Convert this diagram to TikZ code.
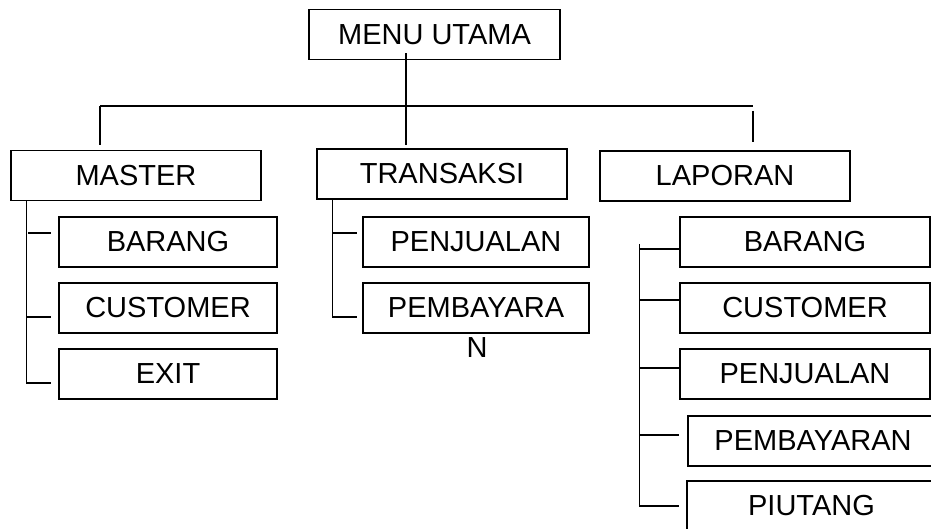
\documentclass[tikz,border=0pt]{standalone}
\usepackage{fontspec}
\setmainfont{Liberation Sans}
\usepackage{tikz}

\begin{document}
\begin{tikzpicture}[x=1pt, y=-1pt,
  menubox/.style={draw, line width=1.6pt, inner sep=0pt, minimum height=50pt,
    font=\fontsize{29}{34}\selectfont},
  plain/.style={inner sep=0pt, font=\fontsize{29}{34}\selectfont},
  link/.style={line width=1.2pt}]
\useasboundingbox (0,0) rectangle (931,529);
% Top level
\node[menubox, minimum width=251pt] (menu) at (434.5,34.5) {MENU UTAMA};
\node[menubox, minimum width=250pt] (master) at (136,175.5) {MASTER};
\node[menubox, minimum width=250pt] (transaksi) at (442,174) {TRANSAKSI};
\node[menubox, minimum width=250pt] (laporan) at (725,176) {LAPORAN};
\coordinate (busl) at (100,106);
\coordinate (busr) at (753,106);
\draw[link] ([xshift=-28.5pt,yshift=7pt]menu.south) -- ([xshift=-36pt,yshift=3pt]transaksi.north);
\draw[link] (busl) -- (busr);
\draw[link] (busl) -- ([xshift=-36pt,yshift=5pt]master.north);
\draw[link] ([yshift=-5pt]busr) -- ([xshift=28pt,yshift=8pt]laporan.north);

% Master
\node[menubox, minimum width=218pt] (mbarang) at (168,242) {BARANG};
\node[menubox, minimum width=218pt] (mcust) at (168,308) {CUSTOMER};
\node[menubox, minimum width=218pt] (mexit) at (168,374) {EXIT};
\draw[link] ([xshift=16pt]master.south west) |- ([xshift=-7pt,yshift=-9pt]mexit.west);
\draw[link] ([xshift=-30pt,yshift=9pt]mbarang.west) -- ([xshift=-7pt,yshift=9pt]mbarang.west);
\draw[link] ([xshift=-32pt,yshift=-9pt]mcust.west) -- ([xshift=-7pt,yshift=-9pt]mcust.west);

% Transaksi
\node[menubox, minimum width=226pt] (tjual) at (476,242) {PENJUALAN};
\node[menubox, minimum width=226pt] (tbayar) at (476,308) {PEMBAYARA};
\node[plain] (tbayarn) at (477,348) {N};
\draw[link] ([xshift=16pt]transaksi.south west) |- ([xshift=-5pt,yshift=-9pt]tbayar.west);
\draw[link] ([xshift=-30pt,yshift=9pt]tjual.west) -- ([xshift=-5pt,yshift=9pt]tjual.west);

% Laporan
\node[menubox, minimum width=250pt] (lbarang) at (805,242) {BARANG};
\node[menubox, minimum width=250pt] (lcust) at (805,308) {CUSTOMER};
\node[menubox, minimum width=250pt] (ljual) at (805,374) {PENJUALAN};
\node[menubox, minimum width=250pt] (lbayar) at (813,441) {PEMBAYARAN};
\node[menubox, minimum width=249pt] (lpiutang) at (811.5,506) {PIUTANG};
\draw[link] ([xshift=-40pt,yshift=-2pt]lbarang.west) |- (lbarang.west |- lpiutang.west);
\draw[link] ([xshift=-40pt,yshift=-7pt]lbarang.west) -- ([yshift=-7pt]lbarang.west);
\draw[link] ([xshift=-40pt,yshift=8pt]lcust.west) -- ([yshift=8pt]lcust.west);
\draw[link] ([xshift=-40pt,yshift=6pt]ljual.west) -- ([yshift=6pt]ljual.west);
\draw[link] ([xshift=-48pt,yshift=6pt]lbayar.west) -- ([xshift=-8pt,yshift=6pt]lbayar.west);
\end{tikzpicture}
\end{document}
